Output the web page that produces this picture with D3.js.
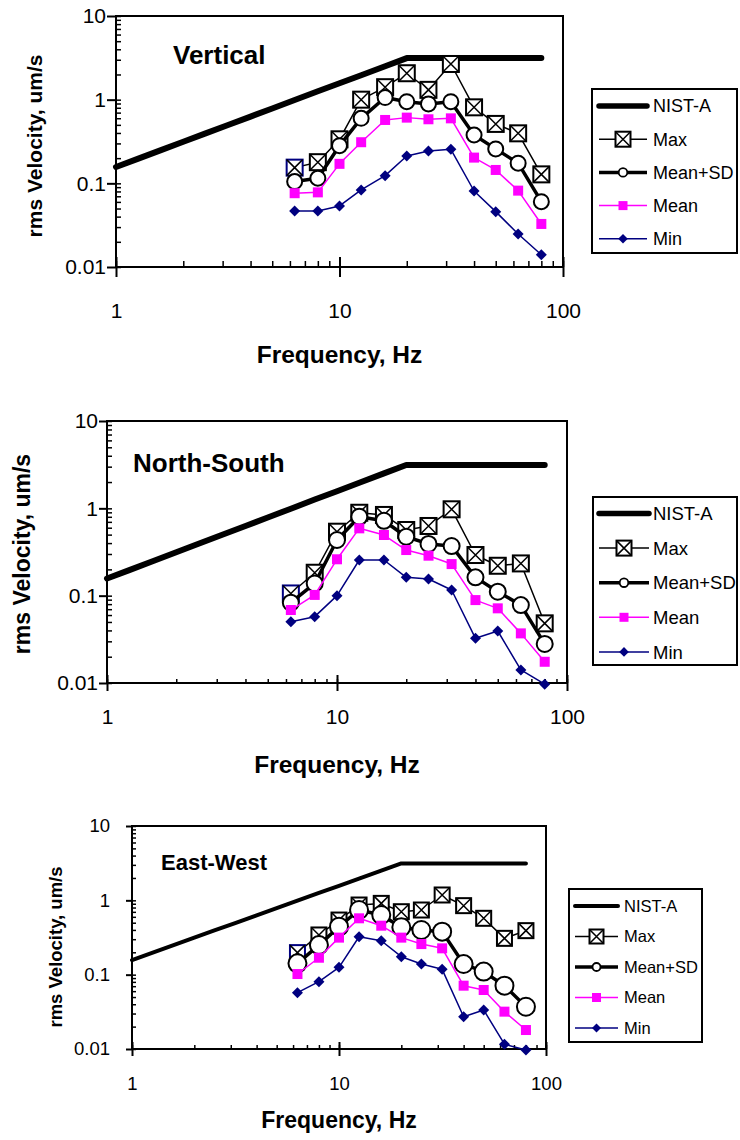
<!DOCTYPE html>
<html>
<head>
<meta charset="utf-8">
<script src="https://cdn.jsdelivr.net/npm/d3@7"></script>
<style>
body { margin: 0; background: #fff; }
svg { display: block; font-family: "Liberation Sans", Arial, sans-serif; }
</style>
</head>
<body>
<svg id="chart" width="740" height="1140"></svg>
<script>
// 1/3 octave band centre frequencies, Hz
var freqAll = [1, 1.25, 1.6, 2, 2.5, 3.15, 4, 5, 6.3, 8, 10, 12.5, 16, 20, 25, 31.5, 40, 50, 63, 80];
var freqMeas = [6.3, 8, 10, 12.5, 16, 20, 25, 31.5, 40, 50, 63, 80];

// NIST-A criterion, um/s
var nistA = [0.157, 0.196, 0.251, 0.314, 0.393, 0.495, 0.628, 0.785, 0.99, 1.26, 1.57, 1.96, 2.51, 3.14, 3.14, 3.14, 3.14, 3.14, 3.14, 3.14];

// Vertical
var vertMax    = [0.154, 0.179, 0.336, 1.0, 1.41, 2.07, 1.31, 2.67, 0.81, 0.513, 0.396, 0.128];
var vertMeanSD = [0.105, 0.115, 0.282, 0.598, 1.06, 0.946, 0.889, 0.946, 0.378, 0.258, 0.174, 0.0604];
var vertMean   = [0.0762, 0.078, 0.171, 0.31, 0.572, 0.61, 0.583, 0.598, 0.203, 0.1445, 0.0818, 0.0327];
var vertMin    = [0.0468, 0.0468, 0.0537, 0.0834, 0.1236, 0.212, 0.244, 0.255, 0.081, 0.0459, 0.0248, 0.014];

// North-South
var nsMax    = [0.106, 0.183, 0.54, 0.89, 0.84, 0.565, 0.628, 0.975, 0.292, 0.22, 0.234, 0.0482];
var nsMeanSD = [0.083, 0.138, 0.434, 0.80, 0.72, 0.473, 0.391, 0.37, 0.162, 0.111, 0.078, 0.028];
var nsMean   = [0.0685, 0.102, 0.261, 0.59, 0.495, 0.333, 0.287, 0.23, 0.089, 0.0716, 0.037, 0.0175];
var nsMin    = [0.0503, 0.0575, 0.1, 0.256, 0.256, 0.162, 0.155, 0.116, 0.0325, 0.0394, 0.0141, 0.0097];

// East-West
var ewMax    = [0.198, 0.342, 0.543, 0.865, 0.91, 0.703, 0.741, 1.18, 0.848, 0.573, 0.308, 0.391];
var ewMeanSD = [0.142, 0.25, 0.442, 0.741, 0.635, 0.434, 0.399, 0.379, 0.139, 0.11, 0.0711, 0.037];
var ewMean   = [0.102, 0.169, 0.315, 0.573, 0.456, 0.315, 0.258, 0.226, 0.0711, 0.0622, 0.0318, 0.018];
var ewMin    = [0.0573, 0.0805, 0.1256, 0.324, 0.286, 0.1746, 0.139, 0.118, 0.0272, 0.0335, 0.0116, 0.0097];

var legendNames = ["NIST-A", "Max", "Mean+SD", "Mean", "Min"];
var yMajor = [0.01, 0.1, 1, 10];
var xMajor = [1, 10, 100];
var xTitle = "Frequency, Hz";
var yTitle = "rms Velocity, um/s";

var NAVY = "#000080", MAGENTA = "#ff00ff";
var FONT = "'Liberation Sans', Arial, sans-serif";

// panel layouts
var panels = [
    { name: "Vertical", max: vertMax, sd: vertMeanSD, mean: vertMean, min: vertMin,
      left: 116, right: 563, top: 16, bottom: 267,
      tickFont: 21, yLabelGap: 10, xTickBase: 318,
      yMajOut: 9, yInner: 5, xMajOut: 10, xMajIn: 10, xMinor: 6,
      label: { x: 173, y: 64, size: 26 },
      xt: { y: 363, size: 24.5 }, yt: { x: 42, cy: 146, size: 21 },
      nistW: 6, boxS: 8, circR: 7.5, sqS: 5, diaS: 5.5,
      legend: { x: 592, y: 89, w: 145, h: 164, row0: 106, step: 33.2, l0: 599, l1: 647, tx: 653, font: 18,
                nistW: 5.5, boxS: 7.5, circR: 4.3, sqS: 4.5, diaS: 4.8 } },
    { name: "North-South", max: nsMax, sd: nsMeanSD, mean: nsMean, min: nsMin,
      left: 107, right: 567, top: 421, bottom: 683,
      tickFont: 21, yLabelGap: 9, xTickBase: 724,
      yMajOut: 8, yInner: 5, xMajOut: 8, xMajIn: 8, xMinor: 4,
      label: { x: 133, y: 472, size: 26 },
      xt: { y: 773, size: 24.5 }, yt: { x: 30, cy: 554, size: 23 },
      nistW: 6, boxS: 8, circR: 8, sqS: 5, diaS: 5.5,
      legend: { x: 593, y: 497, w: 144, h: 168, row0: 513.5, step: 34.6, l0: 599, l1: 649, tx: 653, font: 18.5,
                nistW: 5.5, boxS: 7.5, circR: 4.3, sqS: 4.5, diaS: 4.8 } },
    { name: "East-West", max: ewMax, sd: ewMeanSD, mean: ewMean, min: ewMin,
      left: 132, right: 546, top: 826, bottom: 1049,
      tickFont: 18.5, yLabelGap: 22, xTickBase: 1090,
      yMajOut: 6, yInner: 4, xMajOut: 7, xMajIn: 7, xMinor: 4,
      label: { x: 161, y: 870, size: 22 },
      xt: { y: 1128, size: 23 }, yt: { x: 62, cy: 947, size: 18.5 },
      nistW: 4, boxS: 7.5, circR: 9, sqS: 5, diaS: 5.5,
      legend: { x: 569, y: 889, w: 133, h: 153, row0: 906, step: 30.5, l0: 575, l1: 618, tx: 624, font: 16.5,
                nistW: 4, boxS: 7, circR: 4, sqS: 4.5, diaS: 4.5 } }
];

var svg = d3.select("#chart");

function drawMarker(g, kind, cx, cy, s, stroke) {
    if (kind === "boxx") {
        g.append("rect")
            .attr("x", cx - s).attr("y", cy - s)
            .attr("width", 2 * s).attr("height", 2 * s)
            .attr("fill", "#fff").attr("stroke", stroke).attr("stroke-width", 2);
        g.append("path")
            .attr("d", "M" + (cx - s) + "," + (cy - s) + "L" + (cx + s) + "," + (cy + s) +
                       "M" + (cx + s) + "," + (cy - s) + "L" + (cx - s) + "," + (cy + s))
            .attr("stroke", "#000").attr("stroke-width", 1.5);
    } else if (kind === "circle") {
        g.append("circle").attr("cx", cx).attr("cy", cy).attr("r", s)
            .attr("fill", "#fff").attr("stroke", "#000").attr("stroke-width", 2);
    } else if (kind === "square") {
        g.append("rect")
            .attr("x", cx - s).attr("y", cy - s)
            .attr("width", 2 * s).attr("height", 2 * s)
            .attr("fill", MAGENTA);
    } else if (kind === "diamond") {
        g.append("path")
            .attr("d", "M" + cx + "," + (cy - s) + "L" + (cx + s) + "," + cy +
                       "L" + cx + "," + (cy + s) + "L" + (cx - s) + "," + cy + "Z")
            .attr("fill", NAVY);
    }
}

function drawPanel(p) {
    var g = svg.append("g").attr("class", "panel");

    var x = d3.scaleLog().domain([1, 100]).range([p.left, p.right]);
    var y = d3.scaleLog().domain([0.01, 10]).range([p.bottom, p.top]);

    var series = [
        { vals: nistA, freqs: freqAll, color: "#000", width: p.nistW, marker: null },
        { vals: p.max, freqs: freqMeas, color: "#000", width: 1.5, marker: "boxx", size: p.boxS },
        { vals: p.sd, freqs: freqMeas, color: "#000", width: 3.5, marker: "circle", size: p.circR },
        { vals: p.mean, freqs: freqMeas, color: MAGENTA, width: 1.5, marker: "square", size: p.sqS },
        { vals: p.min, freqs: freqMeas, color: NAVY, width: 1.5, marker: "diamond", size: p.diaS }
    ];

    // plot frame
    g.append("rect")
        .attr("x", p.left).attr("y", p.top)
        .attr("width", p.right - p.left).attr("height", p.bottom - p.top)
        .attr("fill", "none").attr("stroke", "#000").attr("stroke-width", 2);

    // --- Y axis: inner ticks (all), outer majors with labels
    g.append("g")
        .attr("transform", "translate(" + p.left + ",0)")
        .call(d3.axisLeft(y).tickValues(y.ticks()).tickSize(-p.yInner).tickFormat(""))
        .call(function(a) { a.select(".domain").remove(); })
        .selectAll("line").attr("stroke-width", 1.5);

    var yAx = g.append("g")
        .attr("transform", "translate(" + p.left + ",0)")
        .call(d3.axisLeft(y).tickValues(yMajor).tickSize(p.yMajOut)
            .tickPadding(p.yLabelGap - p.yMajOut)
            .tickFormat(function(d) { return String(d); }))
        .call(function(a) { a.select(".domain").remove(); })
        .attr("font-size", p.tickFont)
        .attr("font-family", FONT);
    yAx.selectAll("line").attr("stroke-width", 2);
    yAx.selectAll("text").attr("fill", "#000");

    // --- X axis: minor inner ticks, major crossing ticks with labels
    g.append("g")
        .attr("transform", "translate(0," + p.bottom + ")")
        .call(d3.axisBottom(x).tickValues(x.ticks()).tickSize(-p.xMinor).tickFormat(""))
        .call(function(a) { a.select(".domain").remove(); })
        .selectAll("line").attr("stroke-width", 1.5);

    g.append("g")
        .attr("transform", "translate(0," + p.bottom + ")")
        .call(d3.axisBottom(x).tickValues(xMajor).tickSize(-p.xMajIn).tickFormat(""))
        .call(function(a) { a.select(".domain").remove(); })
        .selectAll("line").attr("stroke-width", 2);

    var xAx = g.append("g")
        .attr("transform", "translate(0," + p.bottom + ")")
        .call(d3.axisBottom(x).tickValues(xMajor).tickSize(p.xMajOut)
            .tickFormat(function(d) { return String(d); }))
        .call(function(a) { a.select(".domain").remove(); })
        .attr("font-size", p.tickFont)
        .attr("font-family", FONT);
    xAx.selectAll("line").attr("stroke-width", 2);
    xAx.selectAll("text")
        .attr("fill", "#000")
        .attr("y", p.xTickBase - p.bottom)
        .attr("dy", 0);

    // axis titles
    g.append("text")
        .attr("x", (p.left + p.right) / 2).attr("y", p.xt.y)
        .attr("text-anchor", "middle")
        .attr("font-weight", "bold").attr("font-size", p.xt.size)
        .text(xTitle);

    g.append("text")
        .attr("transform", "translate(" + p.yt.x + "," + p.yt.cy + ") rotate(-90)")
        .attr("text-anchor", "middle")
        .attr("font-weight", "bold").attr("font-size", p.yt.size)
        .text(yTitle);

    // panel label
    g.append("text")
        .attr("x", p.label.x).attr("y", p.label.y)
        .attr("font-weight", "bold").attr("font-size", p.label.size)
        .text(p.name);

    // series lines + markers, in Excel drawing order
    var line = d3.line()
        .x(function(d) { return x(d.f); })
        .y(function(d) { return y(d.v); });

    series.forEach(function(s) {
        var pts = s.vals.map(function(v, i) { return { f: s.freqs[i], v: v }; });
        g.append("path")
            .datum(pts)
            .attr("d", line)
            .attr("fill", "none")
            .attr("stroke", s.color)
            .attr("stroke-width", s.width)
            .attr("stroke-linecap", "round")
            .attr("stroke-linejoin", "round");
        if (s.marker) {
            g.append("g").selectAll("g")
                .data(pts)
                .join("g")
                .each(function(d, i) {
                    var stroke = (s.marker === "boxx" && i === 0) ? NAVY : "#000";
                    drawMarker(d3.select(this), s.marker, x(d.f), y(d.v), s.size, stroke);
                });
        }
    });

    // legend
    var L = p.legend;
    var lg = g.append("g").attr("class", "legend");
    lg.append("rect")
        .attr("x", L.x).attr("y", L.y).attr("width", L.w).attr("height", L.h)
        .attr("fill", "#fff").attr("stroke", "#000").attr("stroke-width", 2);

    var legKinds = [
        { color: "#000", width: L.nistW, marker: null },
        { color: "#000", width: 1.5, marker: "boxx", size: L.boxS },
        { color: "#000", width: 3.5, marker: "circle", size: L.circR },
        { color: MAGENTA, width: 1.5, marker: "square", size: L.sqS },
        { color: NAVY, width: 1.5, marker: "diamond", size: L.diaS }
    ];

    legendNames.forEach(function(name, i) {
        var ry = L.row0 + i * L.step;
        var k = legKinds[i];
        var row = lg.append("g");
        row.append("line")
            .attr("x1", L.l0).attr("x2", L.l1).attr("y1", ry).attr("y2", ry)
            .attr("stroke", k.color).attr("stroke-width", k.width)
            .attr("stroke-linecap", i === 0 ? "round" : "butt");
        if (k.marker) {
            var mg = row.append("g");
            if (k.marker === "circle") {
                mg.append("circle").attr("cx", (L.l0 + L.l1) / 2).attr("cy", ry).attr("r", k.size)
                    .attr("fill", "#fff").attr("stroke", "#000").attr("stroke-width", 1.8);
            } else {
                drawMarker(mg, k.marker, (L.l0 + L.l1) / 2, ry, k.size, "#000");
            }
        }
        row.append("text")
            .attr("x", L.tx).attr("y", ry).attr("dy", "0.36em")
            .attr("font-size", L.font)
            .text(name);
    });
}

panels.forEach(drawPanel);
</script>
</body>
</html>
